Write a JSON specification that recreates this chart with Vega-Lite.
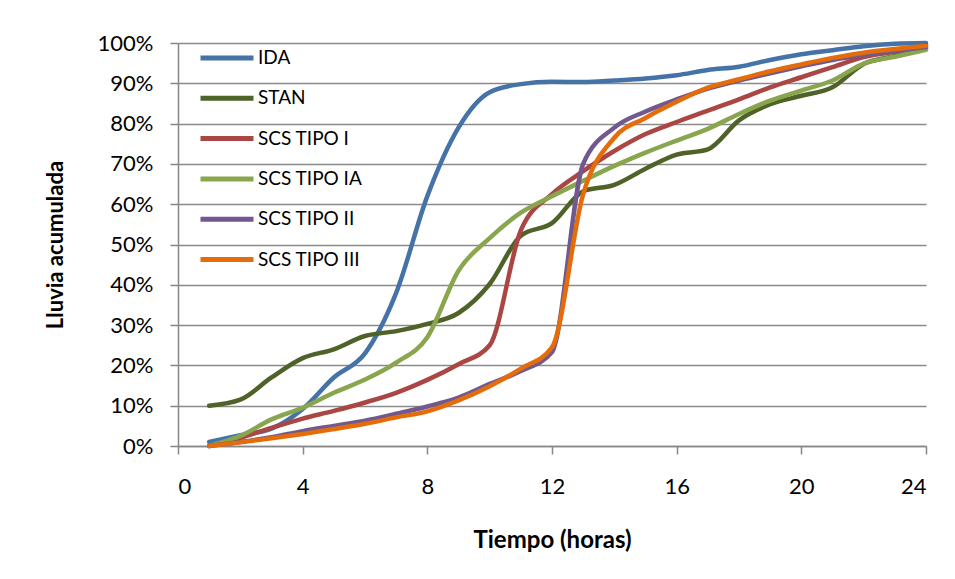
{
  "$schema": "https://vega.github.io/schema/vega-lite/v6.json",
  "width": 748,
  "height": 403,
  "autosize": {"type": "none"},
  "padding": {"left": 178, "top": 43, "right": 29, "bottom": 133},
  "background": "white",
  "config": {"view": {"stroke": null}, "font": "Lato"},
  "data": {"values": [
    {"s": "IDA", "h": 1, "v": 1}, {"s": "IDA", "h": 2, "v": 2.7}, {"s": "IDA", "h": 3, "v": 4.3}, {"s": "IDA", "h": 4, "v": 9.2}, {"s": "IDA", "h": 5, "v": 17}, {"s": "IDA", "h": 6, "v": 23}, {"s": "IDA", "h": 7, "v": 38}, {"s": "IDA", "h": 8, "v": 62}, {"s": "IDA", "h": 9, "v": 79}, {"s": "IDA", "h": 10, "v": 87.8}, {"s": "IDA", "h": 11, "v": 89.8}, {"s": "IDA", "h": 12, "v": 90.4}, {"s": "IDA", "h": 13, "v": 90.3}, {"s": "IDA", "h": 14, "v": 90.7}, {"s": "IDA", "h": 15, "v": 91.2}, {"s": "IDA", "h": 16, "v": 92}, {"s": "IDA", "h": 17, "v": 93.3}, {"s": "IDA", "h": 18, "v": 94.1}, {"s": "IDA", "h": 19, "v": 95.8}, {"s": "IDA", "h": 20, "v": 97.2}, {"s": "IDA", "h": 21, "v": 98.2}, {"s": "IDA", "h": 22, "v": 99.2}, {"s": "IDA", "h": 23, "v": 99.8}, {"s": "IDA", "h": 24, "v": 100},
    {"s": "STAN", "h": 1, "v": 10}, {"s": "STAN", "h": 2, "v": 11.5}, {"s": "STAN", "h": 3, "v": 17}, {"s": "STAN", "h": 4, "v": 21.8}, {"s": "STAN", "h": 5, "v": 24}, {"s": "STAN", "h": 6, "v": 27.3}, {"s": "STAN", "h": 7, "v": 28.5}, {"s": "STAN", "h": 8, "v": 30.3}, {"s": "STAN", "h": 9, "v": 33}, {"s": "STAN", "h": 10, "v": 40.2}, {"s": "STAN", "h": 11, "v": 52.2}, {"s": "STAN", "h": 12, "v": 55.3}, {"s": "STAN", "h": 13, "v": 63.2}, {"s": "STAN", "h": 14, "v": 64.8}, {"s": "STAN", "h": 15, "v": 68.8}, {"s": "STAN", "h": 16, "v": 72.3}, {"s": "STAN", "h": 17, "v": 73.6}, {"s": "STAN", "h": 18, "v": 80.8}, {"s": "STAN", "h": 19, "v": 84.8}, {"s": "STAN", "h": 20, "v": 86.9}, {"s": "STAN", "h": 21, "v": 89}, {"s": "STAN", "h": 22, "v": 94.8}, {"s": "STAN", "h": 23, "v": 96.8}, {"s": "STAN", "h": 24, "v": 99.5},
    {"s": "SCS TIPO I", "h": 1, "v": 0}, {"s": "SCS TIPO I", "h": 2, "v": 2}, {"s": "SCS TIPO I", "h": 3, "v": 4.5}, {"s": "SCS TIPO I", "h": 4, "v": 6.8}, {"s": "SCS TIPO I", "h": 5, "v": 8.7}, {"s": "SCS TIPO I", "h": 6, "v": 10.8}, {"s": "SCS TIPO I", "h": 7, "v": 13.2}, {"s": "SCS TIPO I", "h": 8, "v": 16.4}, {"s": "SCS TIPO I", "h": 9, "v": 20.3}, {"s": "SCS TIPO I", "h": 10, "v": 25}, {"s": "SCS TIPO I", "h": 11, "v": 53.5}, {"s": "SCS TIPO I", "h": 12, "v": 62.5}, {"s": "SCS TIPO I", "h": 13, "v": 68.2}, {"s": "SCS TIPO I", "h": 14, "v": 73.2}, {"s": "SCS TIPO I", "h": 15, "v": 77.4}, {"s": "SCS TIPO I", "h": 16, "v": 80.4}, {"s": "SCS TIPO I", "h": 17, "v": 83.2}, {"s": "SCS TIPO I", "h": 18, "v": 86}, {"s": "SCS TIPO I", "h": 19, "v": 89}, {"s": "SCS TIPO I", "h": 20, "v": 91.5}, {"s": "SCS TIPO I", "h": 21, "v": 94}, {"s": "SCS TIPO I", "h": 22, "v": 96.5}, {"s": "SCS TIPO I", "h": 23, "v": 97.8}, {"s": "SCS TIPO I", "h": 24, "v": 98.7},
    {"s": "SCS TIPO IA", "h": 1, "v": 0}, {"s": "SCS TIPO IA", "h": 2, "v": 2.5}, {"s": "SCS TIPO IA", "h": 3, "v": 6.6}, {"s": "SCS TIPO IA", "h": 4, "v": 9.5}, {"s": "SCS TIPO IA", "h": 5, "v": 13.2}, {"s": "SCS TIPO IA", "h": 6, "v": 16.5}, {"s": "SCS TIPO IA", "h": 7, "v": 20.7}, {"s": "SCS TIPO IA", "h": 8, "v": 27}, {"s": "SCS TIPO IA", "h": 9, "v": 43.5}, {"s": "SCS TIPO IA", "h": 10, "v": 51.6}, {"s": "SCS TIPO IA", "h": 11, "v": 57.9}, {"s": "SCS TIPO IA", "h": 12, "v": 62}, {"s": "SCS TIPO IA", "h": 13, "v": 65.8}, {"s": "SCS TIPO IA", "h": 14, "v": 69.5}, {"s": "SCS TIPO IA", "h": 15, "v": 72.8}, {"s": "SCS TIPO IA", "h": 16, "v": 75.8}, {"s": "SCS TIPO IA", "h": 17, "v": 78.7}, {"s": "SCS TIPO IA", "h": 18, "v": 82.4}, {"s": "SCS TIPO IA", "h": 19, "v": 85.7}, {"s": "SCS TIPO IA", "h": 20, "v": 88.2}, {"s": "SCS TIPO IA", "h": 21, "v": 90.7}, {"s": "SCS TIPO IA", "h": 22, "v": 94.9}, {"s": "SCS TIPO IA", "h": 23, "v": 96.6}, {"s": "SCS TIPO IA", "h": 24, "v": 98.3},
    {"s": "SCS TIPO II", "h": 1, "v": 0}, {"s": "SCS TIPO II", "h": 2, "v": 1}, {"s": "SCS TIPO II", "h": 3, "v": 2.2}, {"s": "SCS TIPO II", "h": 4, "v": 3.7}, {"s": "SCS TIPO II", "h": 5, "v": 5}, {"s": "SCS TIPO II", "h": 6, "v": 6.3}, {"s": "SCS TIPO II", "h": 7, "v": 8}, {"s": "SCS TIPO II", "h": 8, "v": 9.8}, {"s": "SCS TIPO II", "h": 9, "v": 12}, {"s": "SCS TIPO II", "h": 10, "v": 15.4}, {"s": "SCS TIPO II", "h": 11, "v": 18.6}, {"s": "SCS TIPO II", "h": 12, "v": 23.3}, {"s": "SCS TIPO II", "h": 13, "v": 70}, {"s": "SCS TIPO II", "h": 14, "v": 79}, {"s": "SCS TIPO II", "h": 15, "v": 83}, {"s": "SCS TIPO II", "h": 16, "v": 86}, {"s": "SCS TIPO II", "h": 17, "v": 88.7}, {"s": "SCS TIPO II", "h": 18, "v": 90.7}, {"s": "SCS TIPO II", "h": 19, "v": 92.5}, {"s": "SCS TIPO II", "h": 20, "v": 94.2}, {"s": "SCS TIPO II", "h": 21, "v": 95.8}, {"s": "SCS TIPO II", "h": 22, "v": 97}, {"s": "SCS TIPO II", "h": 23, "v": 98}, {"s": "SCS TIPO II", "h": 24, "v": 99},
    {"s": "SCS TIPO III", "h": 1, "v": 0}, {"s": "SCS TIPO III", "h": 2, "v": 0.9}, {"s": "SCS TIPO III", "h": 3, "v": 1.9}, {"s": "SCS TIPO III", "h": 4, "v": 3}, {"s": "SCS TIPO III", "h": 5, "v": 4.2}, {"s": "SCS TIPO III", "h": 6, "v": 5.5}, {"s": "SCS TIPO III", "h": 7, "v": 7.1}, {"s": "SCS TIPO III", "h": 8, "v": 8.6}, {"s": "SCS TIPO III", "h": 9, "v": 11.3}, {"s": "SCS TIPO III", "h": 10, "v": 14.8}, {"s": "SCS TIPO III", "h": 11, "v": 19.2}, {"s": "SCS TIPO III", "h": 12, "v": 24.5}, {"s": "SCS TIPO III", "h": 13, "v": 62.5}, {"s": "SCS TIPO III", "h": 14, "v": 76.5}, {"s": "SCS TIPO III", "h": 15, "v": 81.4}, {"s": "SCS TIPO III", "h": 16, "v": 85.4}, {"s": "SCS TIPO III", "h": 17, "v": 88.9}, {"s": "SCS TIPO III", "h": 18, "v": 91}, {"s": "SCS TIPO III", "h": 19, "v": 93}, {"s": "SCS TIPO III", "h": 20, "v": 94.7}, {"s": "SCS TIPO III", "h": 21, "v": 96.3}, {"s": "SCS TIPO III", "h": 22, "v": 97.6}, {"s": "SCS TIPO III", "h": 23, "v": 98.5}, {"s": "SCS TIPO III", "h": 24, "v": 99.3}
  ]},
  "mark": {"type": "line", "interpolate": "monotone", "strokeWidth": 4.5, "strokeCap": "round", "strokeJoin": "round"},
  "encoding": {
    "x": {
      "field": "h", "type": "quantitative",
      "scale": {"domain": [0, 24], "nice": false, "zero": false},
      "axis": {
        "values": [0, 4, 8, 12, 16, 20, 24],
        "title": "Tiempo (horas)",
        "grid": false,
        "domainColor": "#868686", "domainWidth": 1.5,
        "tickColor": "#868686", "tickWidth": 1.5, "tickSize": 8,
        "labelPadding": 22, "labelFontSize": 22, "labelColor": "#000000",
        "titleFontSize": 24, "titleFontWeight": "bold", "titleColor": "#000000", "titlePadding": 31
      }
    },
    "y": {
      "field": "v", "type": "quantitative",
      "scale": {"domain": [0, 100], "nice": false},
      "axis": {
        "values": [0, 10, 20, 30, 40, 50, 60, 70, 80, 90, 100],
        "labelExpr": "datum.value + '%'",
        "title": "Lluvia acumulada",
        "grid": true, "gridColor": "#8a8a8a", "gridWidth": 1.3, "gridOpacity": 1,
        "domainColor": "#868686", "domainWidth": 1.5,
        "tickColor": "#868686", "tickWidth": 1.5, "tickSize": 8,
        "labelPadding": 17, "labelFontSize": 22, "labelColor": "#000000",
        "titleFontSize": 22, "titleFontWeight": "bold", "titleColor": "#000000", "titlePadding": 30
      }
    },
    "color": {
      "field": "s", "type": "nominal",
      "scale": {
        "domain": ["IDA", "STAN", "SCS TIPO I", "SCS TIPO IA", "SCS TIPO II", "SCS TIPO III"],
        "range": ["#4572A7", "#4F6228", "#AA4643", "#89A54E", "#71588F", "#E46C0A"]
      },
      "legend": {
        "orient": "none", "legendX": 20, "legendY": -14,
        "title": null,
        "symbolType": "stroke", "symbolSize": 2809, "symbolStrokeWidth": 5,
        "labelFontSize": 19, "labelColor": "#000000", "labelOffset": 2,
        "rowPadding": 1.3
      }
    }
  }
}
